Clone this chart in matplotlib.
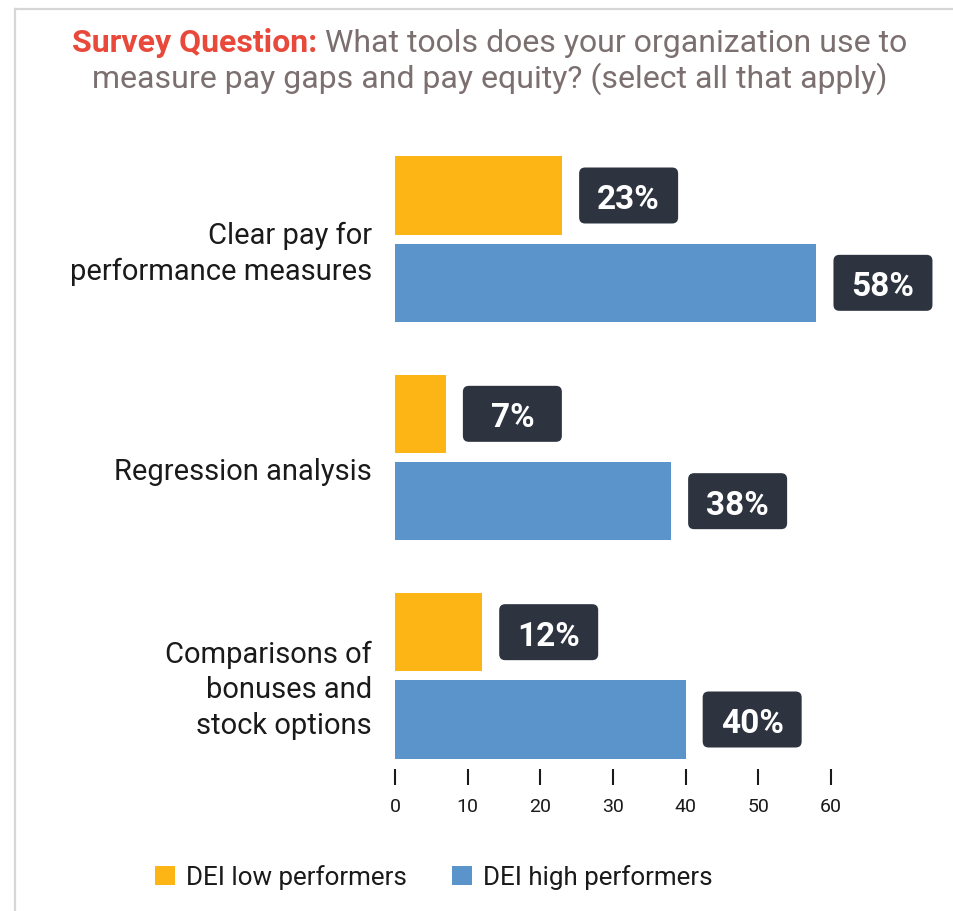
import matplotlib
matplotlib.use("Agg")
import matplotlib.pyplot as plt
from matplotlib.patches import FancyBboxPatch, Patch
from matplotlib.lines import Line2D
from matplotlib.transforms import ScaledTranslation

plt.rcParams['font.family'] = ['Roboto', 'DejaVu Sans']

categories = ["Clear pay for\nperformance measures", "Regression analysis",
              "Comparisons of\nbonuses and\nstock options"]
low_values = [23, 7, 12]
high_values = [58, 38, 40]
series_names = ["DEI low performers", "DEI high performers"]
x_ticks = [0, 10, 20, 30, 40, 50, 60]

ORANGE = "#FDB515"
BLUE = "#5B93CB"
DARK = "#2D3440"
RED = "#E8493A"
GRAY = "#7B6F6F"

W, H = 954, 912
fig = plt.figure(figsize=(W / 100, H / 100), dpi=100)
fig.patch.set_facecolor("white")

# frame lines
fig.add_artist(Line2D([15 / W, 1], [1 - 10 / H, 1 - 10 / H], color="#d6d6d6", lw=1.6))
fig.add_artist(Line2D([15 / W, 15 / W], [0, 1 - 10 / H], color="#d6d6d6", lw=1.6))

ax = fig.add_axes([395 / W, (H - 786) / H, (831 - 395) / W, (786 - 131) / H])
ys = list(range(len(categories)))
bh = 0.36
off = 0.2
ax.barh([y - off for y in ys], low_values, height=bh, color=ORANGE)
ax.barh([y + off for y in ys], high_values, height=bh, color=BLUE)
ax.set_xlim(0, 60)
ax.set_ylim(len(categories) - 0.5, -0.5)
for s in ax.spines.values():
    s.set_visible(False)
ax.set_yticks([])
ax.set_xticks(x_ticks)
ax.set_xticklabels([str(t) for t in x_ticks], fontsize=14, color="#1a1a1a")
ax.tick_params(axis="x", direction="in", length=11.5, width=1.5, color="#1a1a1a", pad=9)

# category labels
for y, lab in zip(ys, categories):
    ax.text(-0.23, -0.135, lab, transform=fig.dpi_scale_trans + ScaledTranslation(0, y, ax.transData),
            ha="right", va="center", fontsize=21, color="#1a1a1a", linespacing=1.36)

# value boxes
def add_box(v, y):
    tr = fig.dpi_scale_trans + ScaledTranslation(v, y, ax.transData)
    box = FancyBboxPatch((0.17, -0.28), 0.99, 0.56,
                         boxstyle="round,pad=0,rounding_size=0.06",
                         fc=DARK, ec="none", transform=tr, clip_on=False)
    ax.add_patch(box)
    ax.text(0.665, 0, f"{v}%", transform=tr, ha="center", va="center_baseline",
            fontsize=24, fontweight="bold", color="white")

for y, v in zip(ys, low_values):
    add_box(v, y - off)
for y, v in zip(ys, high_values):
    add_box(v, y + off)

# title
fig.canvas.draw()
r = fig.canvas.get_renderer()
TS = 23
t1 = fig.text(0, 1 - 52 / H, "Survey Question:", fontsize=TS, fontweight="bold", color=RED, va="baseline")
t2 = fig.text(0, 1 - 52 / H, " What tools does your organization use to", fontsize=TS, color=GRAY, va="baseline")
w1 = t1.get_window_extent(r).width
w2 = t2.get_window_extent(r).width
x0 = 490 - (w1 + w2) / 2
t1.set_x(x0 / W)
t2.set_x((x0 + w1) / W)
fig.text(490 / W, 1 - 88 / H, "measure pay gaps and pay equity? (select all that apply)",
         fontsize=TS, color=GRAY, va="baseline", ha="center")

handles = [Patch(fc=ORANGE, ec="none"), Patch(fc=BLUE, ec="none")]
fig.legend(handles, series_names, loc="center", bbox_to_anchor=(434 / W, 1 - 878 / H),
           ncol=2, frameon=False, fontsize=18.7, handlelength=0.77, handleheight=0.8,
           handletextpad=0.42, columnspacing=1.73, labelcolor="#1a1a1a")

fig.savefig("out.png", dpi=100, facecolor="white")
